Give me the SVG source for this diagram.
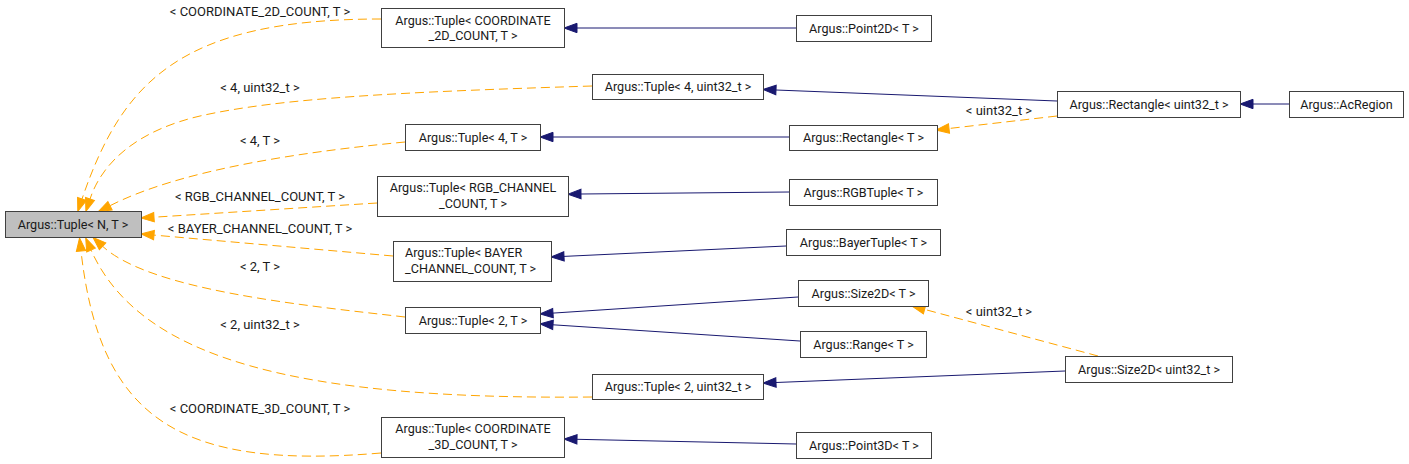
<svg xmlns="http://www.w3.org/2000/svg" width="1409" height="464" viewBox="0 0 1409 464">
<defs>
<marker id="ab" markerUnits="userSpaceOnUse" markerWidth="14" markerHeight="10" refX="0" refY="0" orient="auto" overflow="visible"><path d="M0,-4.7 L13,0 L0,4.7 z" fill="#191970" stroke="#191970" stroke-width="1"/></marker>
<marker id="ao" markerUnits="userSpaceOnUse" markerWidth="14" markerHeight="10" refX="0" refY="0" orient="auto" overflow="visible"><path d="M0,-4.7 L13,0 L0,4.7 z" fill="#ffa500" stroke="#ffa500" stroke-width="1"/></marker>
<style>
.n rect{fill:#fff;stroke:#404040;stroke-width:1}
.n.root rect{fill:#bfbfbf}
text{font-family:Roboto,"Liberation Sans",sans-serif;font-size:12.6px;fill:#1a1a1a}
.lbl{font-size:13px}
.c{text-anchor:middle}
.b{fill:none;stroke:#191970;stroke-width:1;marker-end:url(#ab)}
.o{fill:none;stroke:#ffa500;stroke-width:1;stroke-dasharray:9,5;marker-end:url(#ao)}
</style>
</defs>
<g id="edges">
<path class="b" d="M796,28 L577,28"/>
<path class="b" d="M1057,101 L776,90"/>
<path class="b" d="M1289,104 L1253,104"/>
<path class="b" d="M789,137 L553,137"/>
<path class="b" d="M789,192 L581,194"/>
<path class="b" d="M786,246 L564,256.4"/>
<path class="b" d="M798,297 L553,313.1"/>
<path class="b" d="M800,341 L553,324.8"/>
<path class="b" d="M1065,371 L776,382.5"/>
<path class="b" d="M796,444 L577,439.3"/>
<path class="o" d="M1057,116 L949,128.5"/>
<path class="o" d="M1098,356 L924.6,309.4"/>
<path class="o" d="M381,19 C180,19 122,82 82,199"/>
<path class="o" d="M592,86 C400,92 280,98 200,116 C140,130 103,160 90,199"/>
<path class="o" d="M405,142 C300,152 180,170 110,205.7"/>
<path class="o" d="M377,203 L154,217.2"/>
<path class="o" d="M393,256 L154,235.1"/>
<path class="o" d="M405,317 C300,305 150,290 102.6,246.3"/>
<path class="o" d="M592,397 C300,400 140,360 91,250"/>
<path class="o" d="M381,453 C180,470 100,420 81,251"/>
<text class="c lbl" x="260" y="16">&lt; COORDINATE_2D_COUNT, T &gt;</text>
<text class="c lbl" x="260" y="92">&lt; 4, uint32_t &gt;</text>
<text class="c lbl" x="260" y="145">&lt; 4, T &gt;</text>
<text class="c lbl" x="260" y="201">&lt; RGB_CHANNEL_COUNT, T &gt;</text>
<text class="c lbl" x="260" y="233">&lt; BAYER_CHANNEL_COUNT, T &gt;</text>
<text class="c lbl" x="260" y="271">&lt; 2, T &gt;</text>
<text class="c lbl" x="260" y="329">&lt; 2, uint32_t &gt;</text>
<text class="c lbl" x="260" y="413">&lt; COORDINATE_3D_COUNT, T &gt;</text>
<text class="c lbl" x="999" y="115">&lt; uint32_t &gt;</text>
<text class="c lbl" x="999" y="315.5">&lt; uint32_t &gt;</text>
</g>
<g id="root" class="n root"><rect x="5.5" y="211.5" width="136" height="26"/><text class="c" x="73" y="228.5">Argus::Tuple&lt; N, T &gt;</text></g>
<g id="tuple_coord2d" class="n"><rect x="381.5" y="8.5" width="183" height="39"/><text class="c" x="473" y="24.5">Argus::Tuple&lt; COORDINATE</text><text class="c" x="473" y="39.5">_2D_COUNT, T &gt;</text></g>
<g id="tuple_4_u32" class="n"><rect x="592.5" y="74.5" width="171" height="25"/><text class="c" x="678" y="91">Argus::Tuple&lt; 4, uint32_t &gt;</text></g>
<g id="tuple_4_t" class="n"><rect x="405.5" y="124.5" width="135" height="26"/><text class="c" x="473" y="141.5">Argus::Tuple&lt; 4, T &gt;</text></g>
<g id="tuple_rgb" class="n"><rect x="377.5" y="176.5" width="191" height="40"/><text class="c" x="473" y="192">Argus::Tuple&lt; RGB_CHANNEL</text><text class="c" x="473" y="207.5">_COUNT, T &gt;</text></g>
<g id="tuple_bayer" class="n"><rect x="393.5" y="241.5" width="158" height="40"/><text x="405" y="257">Argus::Tuple&lt; BAYER</text><text x="405" y="272.5">_CHANNEL_COUNT, T &gt;</text></g>
<g id="tuple_2_t" class="n"><rect x="405.5" y="307.5" width="135" height="26"/><text class="c" x="473" y="324.5">Argus::Tuple&lt; 2, T &gt;</text></g>
<g id="tuple_2_u32" class="n"><rect x="592.5" y="374.5" width="171" height="25"/><text class="c" x="678" y="391">Argus::Tuple&lt; 2, uint32_t &gt;</text></g>
<g id="tuple_coord3d" class="n"><rect x="381.5" y="417.5" width="183" height="40"/><text class="c" x="473" y="433">Argus::Tuple&lt; COORDINATE</text><text class="c" x="473" y="448.5">_3D_COUNT, T &gt;</text></g>
<g id="point2d" class="n"><rect x="796.5" y="15.5" width="135" height="26"/><text class="c" x="864" y="32.5">Argus::Point2D&lt; T &gt;</text></g>
<g id="rectangle_t" class="n"><rect x="789.5" y="125.5" width="148" height="25"/><text class="c" x="863.5" y="142">Argus::Rectangle&lt; T &gt;</text></g>
<g id="rgbtuple" class="n"><rect x="789.5" y="179.5" width="148" height="26"/><text class="c" x="863.5" y="196.5">Argus::RGBTuple&lt; T &gt;</text></g>
<g id="bayertuple" class="n"><rect x="786.5" y="229.5" width="154" height="26"/><text class="c" x="863.5" y="246.5">Argus::BayerTuple&lt; T &gt;</text></g>
<g id="size2d_t" class="n"><rect x="798.5" y="280.5" width="130" height="26"/><text class="c" x="863.5" y="297.5">Argus::Size2D&lt; T &gt;</text></g>
<g id="range_t" class="n"><rect x="800.5" y="331.5" width="126" height="26"/><text class="c" x="863.5" y="348.5">Argus::Range&lt; T &gt;</text></g>
<g id="point3d" class="n"><rect x="796.5" y="432.5" width="135" height="26"/><text class="c" x="864" y="449.5">Argus::Point3D&lt; T &gt;</text></g>
<g id="rectangle_u32" class="n"><rect x="1057.5" y="91.5" width="183" height="26"/><text class="c" x="1149" y="108.5">Argus::Rectangle&lt; uint32_t &gt;</text></g>
<g id="acregion" class="n"><rect x="1289.5" y="91.5" width="114" height="26"/><text class="c" x="1346.5" y="108.5">Argus::AcRegion</text></g>
<g id="size2d_u32" class="n"><rect x="1065.5" y="356.5" width="167" height="26"/><text class="c" x="1149" y="373.5">Argus::Size2D&lt; uint32_t &gt;</text></g>
</svg>
